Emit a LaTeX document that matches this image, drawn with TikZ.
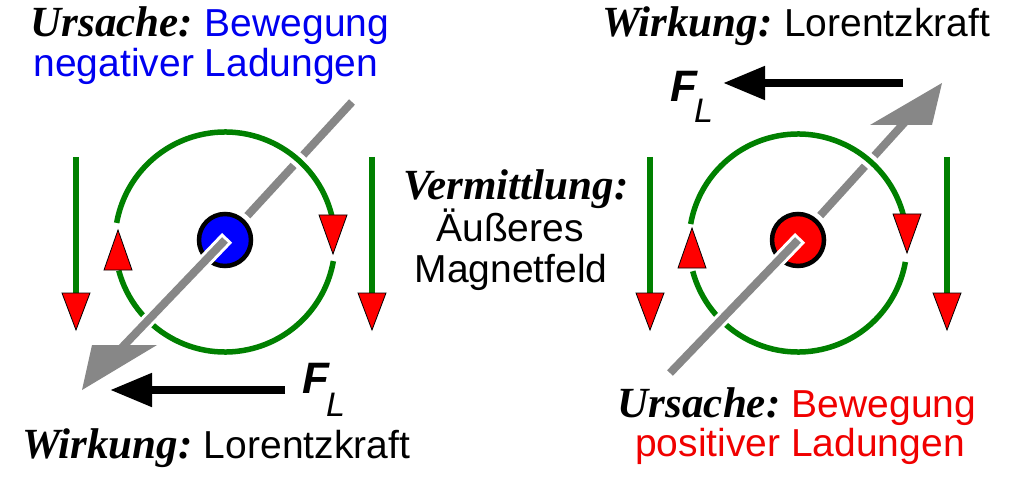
\documentclass[tikz,border=0pt]{standalone}
\usepackage{fontspec}
\setmainfont{Liberation Sans}
\newfontfamily\serifbi{Liberation Serif}
\usetikzlibrary{arrows.meta}
\definecolor{dgreen}{RGB}{0,128,0}
\definecolor{hotred}{RGB}{255,0,0}
\definecolor{txtblue}{RGB}{0,0,240}
\definecolor{txtred}{RGB}{240,0,0}
\definecolor{dotblue}{RGB}{0,0,255}
\definecolor{wiregray}{RGB}{135,135,135}
\newcommand\mylead[1]{{\serifbi\fontsize{43}{40}\selectfont\bfseries\itshape #1}}
\tikzset{
  fieldline/.style={draw=dgreen, line width=5.5pt},
  redhead/.style={fill=hotred, draw=black, line width=0.8pt, line join=miter},
  halo/.style={draw=white, line width=14pt},
  wire/.style={draw=wiregray, line width=8pt},
  txt/.style={inner sep=0pt, anchor=base, font=\fontsize{39}{40}\selectfont},
  forcearrow/.style={draw=black, line width=8pt, -{Triangle[length=42pt,width=32pt]}},
  fieldarrow/.pic={
    \draw[fieldline] (0,0) -- (0,-138);
    \filldraw[redhead] (-14,-136) -- (14,-136) -- (0,-173) -- cycle;
  },
  downhead/.pic={\filldraw[redhead] (-14,0) -- (14,0) -- (0,-39) -- cycle;},
  uphead/.pic={\filldraw[redhead] (-14,0) -- (14,0) -- (0,40) -- cycle;},
}
\begin{document}
\begin{tikzpicture}[x=1pt,y=1pt]
\useasboundingbox (0,-478) rectangle (1024,0);

% coordinates
\coordinate (LC) at (225,-242);
\coordinate (LD) at (225,-240);
\coordinate (Lback) at (352,-102);
\coordinate (Lshaft) at (110,-360);
\coordinate (RC) at (798,-243);
\coordinate (RD) at (798,-240);
\coordinate (Rfront) at (670,-373);
\coordinate (Rshaft) at (915,-111);

% vertical field arrows
\pic at (76,-157) {fieldarrow};
\pic at (372,-157) {fieldarrow};
\pic at (650,-157) {fieldarrow};
\pic at (947,-157) {fieldarrow};

% back wire segments
\draw[wire] (LD) -- (Lback);
\draw[wire] (RD) -- (Rshaft);
\fill[wiregray] (870,-125) -- (932,-125) -- (942,-83) -- cycle;

% circular field lines
\foreach \s/\e in {14/170,195/350}{
  \draw[halo] (LC) ++(\s:110) arc[start angle=\s, end angle=\e, radius=110];
  \draw[fieldline] (LC) ++(\s:110) arc[start angle=\s, end angle=\e, radius=110];
  \draw[halo] (RC) ++(\s:109) arc[start angle=\s, end angle=\e, radius=109];
  \draw[fieldline] (RC) ++(\s:109) arc[start angle=\s, end angle=\e, radius=109];
}
\pic at (333,-215) {downhead};
\pic at (118,-270) {uphead};
\pic at (907,-214) {downhead};
\pic at (692,-268) {uphead};

% charges
\fill[white] (LD) circle (33);
\filldraw[fill=dotblue, draw=black, line width=4.5pt] (LD) circle (26);
\fill[white] (RD) circle (33);
\filldraw[fill=hotred, draw=black, line width=4.5pt] (RD) circle (26);

% front wire segments
\draw[white, line width=14pt, shorten <=-3pt] (LD) -- (Lshaft);
\draw[wire] (LD) -- (Lshaft);
\fill[wiregray] (92,-345) -- (157,-345) -- (82,-390) -- cycle;
\draw[white, line width=14pt, shorten <=-3pt] (RD) -- (Rfront);
\draw[wire] (RD) -- (Rfront);

% Lorentz force arrows
\coordinate (FLa) at (285,-390);
\coordinate (FLb) at (110,-390);
\draw[forcearrow] (FLa) -- (FLb);
\coordinate (FRa) at (903,-83);
\coordinate (FRb) at (723,-83);
\draw[forcearrow] (FRa) -- (FRb);
\node[inner sep=0pt, anchor=base west, font=\fontsize{44}{44}\selectfont\bfseries\itshape] (FL1) at (302,-393) {F};
\node[inner sep=0pt, anchor=base west, font=\fontsize{34}{34}\selectfont\itshape] (FL1s) at (326,-416) {L};
\node[inner sep=0pt, anchor=base west, font=\fontsize{44}{44}\selectfont\bfseries\itshape] (FL2) at (670,-102) {F};
\node[inner sep=0pt, anchor=base west, font=\fontsize{34}{34}\selectfont\itshape] (FL2s) at (694,-123) {L};

% texts
\node[txt] (tl1) at (210,-37) {\mylead{Ursache:}\hspace{-3pt} \textcolor{txtblue}{Bewegung}};
\node[txt] (tl2) at (206,-77) {\textcolor{txtblue}{negativer Ladungen}};
\node[txt] (tr1) at (796,-37) {\mylead{Wirkung:}\hspace{-3pt} Lorentzkraft};
\node[txt] (m1) at (516,-200) {\mylead{Vermittlung:}};
\node[txt] (m2) at (510,-241) {Äußeres};
\node[txt] (m3) at (511,-282) {Magnetfeld};
\node[txt] (bl1) at (216,-458) {\mylead{Wirkung:}\hspace{-3pt} Lorentzkraft};
\node[txt] (br1) at (797,-417) {\mylead{Ursache:}\hspace{-3pt} \textcolor{txtred}{Bewegung}};
\node[txt] (br2) at (800,-456) {\textcolor{txtred}{positiver Ladungen}};
\end{tikzpicture}
\end{document}
